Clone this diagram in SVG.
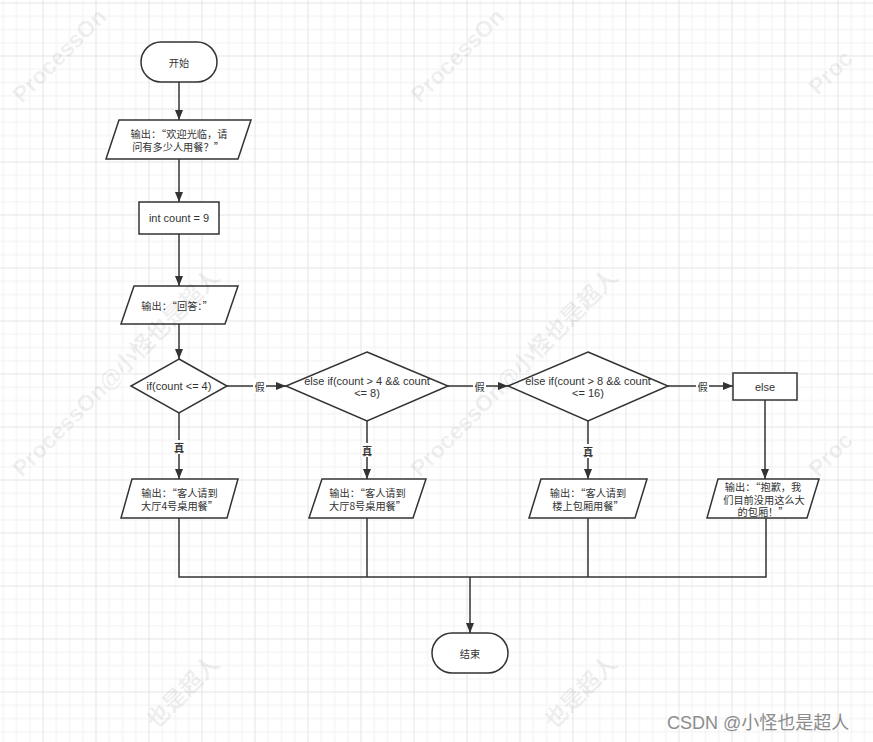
<svg xmlns="http://www.w3.org/2000/svg" width="873" height="742" viewBox="0 0 873 742">
<defs>
<pattern id="grid" x="42.5" y="2.5" width="53" height="53" patternUnits="userSpaceOnUse">
<path d="M13.75 0V53M27 0V53M40.25 0V53M0 13.75H53M0 27H53M0 40.25H53" stroke="#f0f0f0" stroke-width="1" fill="none"/>
<path d="M0.5 0V53M0 0.5H53" stroke="#e4e4e4" stroke-width="1" fill="none"/>
</pattern>
<marker id="arr" markerUnits="userSpaceOnUse" markerWidth="10" markerHeight="8" refX="10" refY="4" orient="auto">
<path d="M0,0 L10,4 L0,8 Z" fill="#333"/>
</marker>
</defs>
<style>
.s{fill:#fff;stroke:#333;stroke-width:1.5}
.t{font-family:"Liberation Sans","Noto Sans CJK SC",sans-serif;font-size:11px;fill:#333;text-anchor:middle;dominant-baseline:central}
.c{font-family:"Noto Sans CJK SC","Liberation Sans",sans-serif;font-size:10.2px;fill:#333;text-anchor:middle;dominant-baseline:central}
.ln{fill:none;stroke:#333;stroke-width:1.5}
.a{marker-end:url(#arr)}
.lb{fill:#fff}
.wm{font-family:"Liberation Sans","Noto Sans CJK SC",sans-serif;font-size:23px;font-weight:bold;fill:#000;fill-opacity:0.07}
</style>
<rect width="873" height="742" fill="#fff"/>
<rect width="873" height="742" fill="url(#grid)"/>

<g id="connectors">
<path class="ln a" d="M179 82V120"/>
<path class="ln a" d="M179 159V202"/>
<path class="ln a" d="M179 234V286"/>
<path class="ln a" d="M179 324V359"/>
<path class="ln a" d="M227 386H286"/>
<path class="ln a" d="M448 386H508"/>
<path class="ln a" d="M668 386H733"/>
<path class="ln a" d="M179 413V479"/>
<path class="ln a" d="M367 421V479"/>
<path class="ln a" d="M588 421V479"/>
<path class="ln a" d="M765 400V479"/>
<path class="ln" d="M179 518V577H766V518M367 518V577M588 518V577"/>
<path class="ln a" d="M470 577V633" stroke-width="2"/>
<rect class="lb" x="253" y="379" width="13" height="14"/>
<text class="c" x="259.5" y="386">假</text>
<rect class="lb" x="473" y="379" width="13" height="14"/>
<text class="c" x="479.5" y="386">假</text>
<rect class="lb" x="696" y="379" width="13" height="14"/>
<text class="c" x="702.5" y="386">假</text>
<rect class="lb" x="173" y="440" width="13" height="14"/>
<text class="c" x="179" y="447" font-weight="bold">真</text>
<rect class="lb" x="361" y="443" width="13" height="14"/>
<text class="c" x="367" y="450" font-weight="bold">真</text>
<rect class="lb" x="582" y="444" width="13" height="14"/>
<text class="c" x="588" y="451" font-weight="bold">真</text>
</g>

<g id="start">
<rect class="s" x="141" y="42" width="76" height="40" rx="20"/>
<text class="c" x="179" y="62">开始</text>
</g>
<g id="out-welcome">
<polygon class="s" points="119,120 251,120 238,159 106,159"/>
<text class="c" x="179" y="133.5">输出：“欢迎光临，请</text>
<text class="c" x="178" y="146.5">问有多少人用餐？”</text>
</g>
<g id="init">
<rect class="s" x="139" y="202" width="80" height="32"/>
<text class="t" x="179" y="218">int count = 9</text>
</g>
<g id="out-answer">
<polygon class="s" points="134,286 238,286 225,324 121,324"/>
<text class="c" x="177" y="305">输出：“回答：”</text>
</g>
<g id="cond1">
<polygon class="s" points="179,359 227,386 179,413 131,386"/>
<text class="t" x="179" y="386">if(count &lt;= 4)</text>
</g>
<g id="cond2">
<polygon class="s" points="367,352 448,386 367,421 286,386"/>
<text class="t" x="367" y="380.5">else if(count &gt; 4 &amp;&amp; count</text>
<text class="t" x="367" y="392.5">&lt;= 8)</text>
</g>
<g id="cond3">
<polygon class="s" points="588,352 668,386 588,421 508,386"/>
<text class="t" x="588" y="380.5">else if(count &gt; 8 &amp;&amp; count</text>
<text class="t" x="588" y="392.5">&lt;= 16)</text>
</g>
<g id="else">
<rect class="s" x="733" y="373" width="64" height="27"/>
<text class="t" x="765" y="386.5">else</text>
</g>
<g id="out1">
<polygon class="s" points="132,479 238,479 227,518 121,518"/>
<text class="c" x="179.5" y="492">输出：“客人请到</text>
<text class="c" x="179.5" y="505">大厅4号桌用餐”</text>
</g>
<g id="out2">
<polygon class="s" points="322,479 426,479 413,518 309,518"/>
<text class="c" x="367.5" y="492">输出：“客人请到</text>
<text class="c" x="367.5" y="505">大厅8号桌用餐”</text>
</g>
<g id="out3">
<polygon class="s" points="541,479 647,479 635,518 529,518"/>
<text class="c" x="588" y="492">输出：“客人请到</text>
<text class="c" x="588" y="505">楼上包厢用餐”</text>
</g>
<g id="out4">
<polygon class="s" points="718,479 819,479 807,518 707,518"/>
<text class="c" x="763" y="486.5">输出：“抱歉，我</text>
<text class="c" x="764" y="499">们目前没用这么大</text>
<text class="c" x="763" y="511.5">的包厢！”</text>
</g>
<g id="end">
<rect class="s" x="432" y="633" width="76" height="40" rx="20"/>
<text class="c" x="470" y="653">结束</text>
</g>

<g id="watermark">
<text class="wm" transform="translate(22,104) rotate(-45)">ProcessOn</text>
<text class="wm" transform="translate(420,104) rotate(-45)">ProcessOn</text>
<text class="wm" transform="translate(818,96) rotate(-45)">Proc</text>
<text class="wm" transform="translate(22,478) rotate(-45)">ProcessOn@小怪也是超人</text>
<text class="wm" transform="translate(420,478) rotate(-45)">ProcessOn@小怪也是超人</text>
<text class="wm" transform="translate(818,478) rotate(-45)">Proc</text>
<text class="wm" transform="translate(156,730) rotate(-45)">也是超人</text>
<text class="wm" transform="translate(554,730) rotate(-45)">也是超人</text>
</g>
<text x="667" y="729" font-family="'Liberation Sans','Noto Sans CJK SC',sans-serif" font-size="18" fill="#8c8c8c">CSDN @小怪也是超人</text>
</svg>
